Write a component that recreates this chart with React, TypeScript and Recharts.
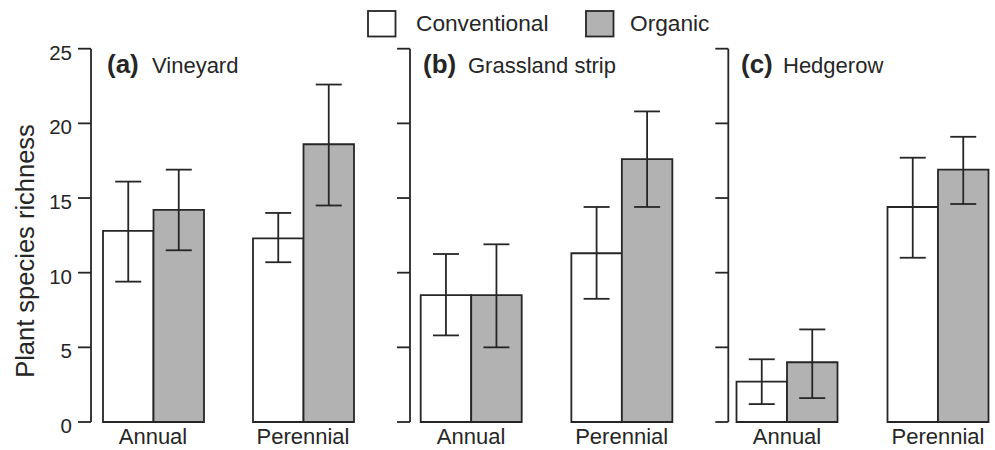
import { BarChart, Bar, XAxis, YAxis, ErrorBar, Label } from 'recharts'

const categories = ['Annual', 'Perennial']
const seriesNames = ['Conventional', 'Organic']
const yTicks = [0, 5, 10, 15, 20, 25]

// (a) Vineyard
const vineyardConv = [12.8, 12.3]
const vineyardConvLow = [9.4, 10.7]
const vineyardConvHigh = [16.1, 14.0]
const vineyardOrg = [14.2, 18.6]
const vineyardOrgLow = [11.5, 14.5]
const vineyardOrgHigh = [16.9, 22.6]

// (b) Grassland strip
const grassConv = [8.5, 11.3]
const grassConvLow = [5.8, 8.25]
const grassConvHigh = [11.25, 14.4]
const grassOrg = [8.5, 17.6]
const grassOrgLow = [5.0, 14.4]
const grassOrgHigh = [11.9, 20.8]

// (c) Hedgerow
const hedgeConv = [2.7, 14.4]
const hedgeConvLow = [1.2, 11.0]
const hedgeConvHigh = [4.2, 17.7]
const hedgeOrg = [4.0, 16.9]
const hedgeOrgLow = [1.6, 14.6]
const hedgeOrgHigh = [6.2, 19.1]

const INK = '#262626'
const GREY = '#b2b2b2'
const FONT = '"Liberation Sans", Arial, Helvetica, sans-serif'

function buildRows(conv: number[], convLo: number[], convHi: number[], org: number[], orgLo: number[], orgHi: number[]) {
  return categories.map((name, i) => ({
    name,
    conv: conv[i],
    org: org[i],
    convErr: [conv[i] - convLo[i], convHi[i] - conv[i]],
    orgErr: [org[i] - orgLo[i], orgHi[i] - org[i]],
  }))
}

const panels = [
  {
    letter: '(a)',
    title: 'Vineyard',
    rows: buildRows(vineyardConv, vineyardConvLow, vineyardConvHigh, vineyardOrg, vineyardOrgLow, vineyardOrgHigh),
    left: 0, yWidth: 91, plotWidth: 287, padL: -13, padR: 0, labels: true,
  },
  {
    letter: '(b)',
    title: 'Grassland strip',
    rows: buildRows(grassConv, grassConvLow, grassConvHigh, grassOrg, grassOrgLow, grassOrgHigh),
    left: 330, yWidth: 80, plotWidth: 287, padL: -14.3, padR: 0, labels: false,
  },
  {
    letter: '(c)',
    title: 'Hedgerow',
    rows: buildRows(hedgeConv, hedgeConvLow, hedgeConvHigh, hedgeOrg, hedgeOrgLow, hedgeOrgHigh),
    left: 700, yWidth: 28.3, plotWidth: 266.7, padL: -16.8, padR: -18.5, labels: false,
  },
]

function YTick({ x, y, payload }: any) {
  return (
    <text x={x} y={y} dy={11} textAnchor="end" fontSize={20.5} fill={INK} fontFamily={FONT}>
      {payload.value}
    </text>
  )
}

// panels b and c keep their tick marks but show no numbers
function NoTick() {
  return <g />
}

function YTitle() {
  const cx = 25
  const cy = 251
  return (
    <text
      x={cx}
      y={cy}
      transform={`rotate(-90, ${cx}, ${cy})`}
      textAnchor="middle"
      dominantBaseline="central"
      fontSize={25.5}
      fill={INK}
      fontFamily={FONT}
    >
      Plant species richness
    </text>
  )
}

function Panel({ p }: any) {
  return (
    <div style={{ position: 'absolute', left: p.left, top: 0 }}>
      <BarChart
        width={p.yWidth + p.plotWidth}
        height={450}
        data={p.rows}
        margin={{ top: 48.7, right: 0, left: 0, bottom: 0 }}
        barGap={0}
        barSize={50.5}
      >
        <XAxis
          dataKey="name"
          height={28}
          axisLine={false}
          tickLine={false}
          tickSize={0}
          tickMargin={6}
          padding={{ left: p.padL, right: p.padR }}
          tick={{ fill: INK, fontSize: 22, fontFamily: FONT }}
          interval={0}
        />
        <YAxis
          type="number"
          domain={[0, 25]}
          ticks={yTicks}
          width={p.yWidth}
          tickSize={13}
          tickMargin={6}
          axisLine={{ stroke: INK, strokeWidth: 1.8 }}
          tickLine={{ stroke: INK, strokeWidth: 1.8 }}
          tick={p.labels ? <YTick /> : <NoTick />}
          interval={0}
        >
          {p.labels && <Label content={<YTitle />} />}
        </YAxis>
        <Bar dataKey="conv" name={seriesNames[0]} fill="#ffffff" stroke={INK} strokeWidth={1.8} isAnimationActive={false}>
          <ErrorBar dataKey="convErr" width={13} stroke={INK} strokeWidth={1.8} direction="y" />
        </Bar>
        <Bar dataKey="org" name={seriesNames[1]} fill={GREY} stroke={INK} strokeWidth={1.8} isAnimationActive={false}>
          <ErrorBar dataKey="orgErr" width={13} stroke={INK} strokeWidth={1.8} direction="y" />
        </Bar>
      </BarChart>
    </div>
  )
}

const titleX = [107, 423, 741]
const titleGap = [45, 45, 42]

export default function App() {
  return (
    <div style={{ position: 'absolute', left: 0, top: 0, width: 995, height: 450, background: '#fff', overflow: 'hidden' }}>
      {panels.map((p) => (
        <Panel key={p.letter} p={p} />
      ))}
      <svg width={995} height={450} style={{ position: 'absolute', left: 0, top: 0, pointerEvents: 'none' }}>
        {panels.map((p, i) => (
          <g key={p.letter} fontFamily={FONT} fill={INK}>
            <text x={titleX[i]} y={73} fontSize={26} fontWeight="bold">{p.letter}</text>
            <text x={titleX[i] + titleGap[i]} y={73} fontSize={22}>{p.title}</text>
          </g>
        ))}
        <g fontFamily={FONT} fill={INK}>
          <rect x={368} y={11} width={27.5} height={25.5} fill="#fff" stroke={INK} strokeWidth={1.8} />
          <text x={416} y={31} fontSize={22.7}>{seriesNames[0]}</text>
          <rect x={586} y={11} width={27.5} height={25.5} fill={GREY} stroke={INK} strokeWidth={1.8} />
          <text x={630} y={31} fontSize={22.7}>{seriesNames[1]}</text>
        </g>
      </svg>
    </div>
  )
}
